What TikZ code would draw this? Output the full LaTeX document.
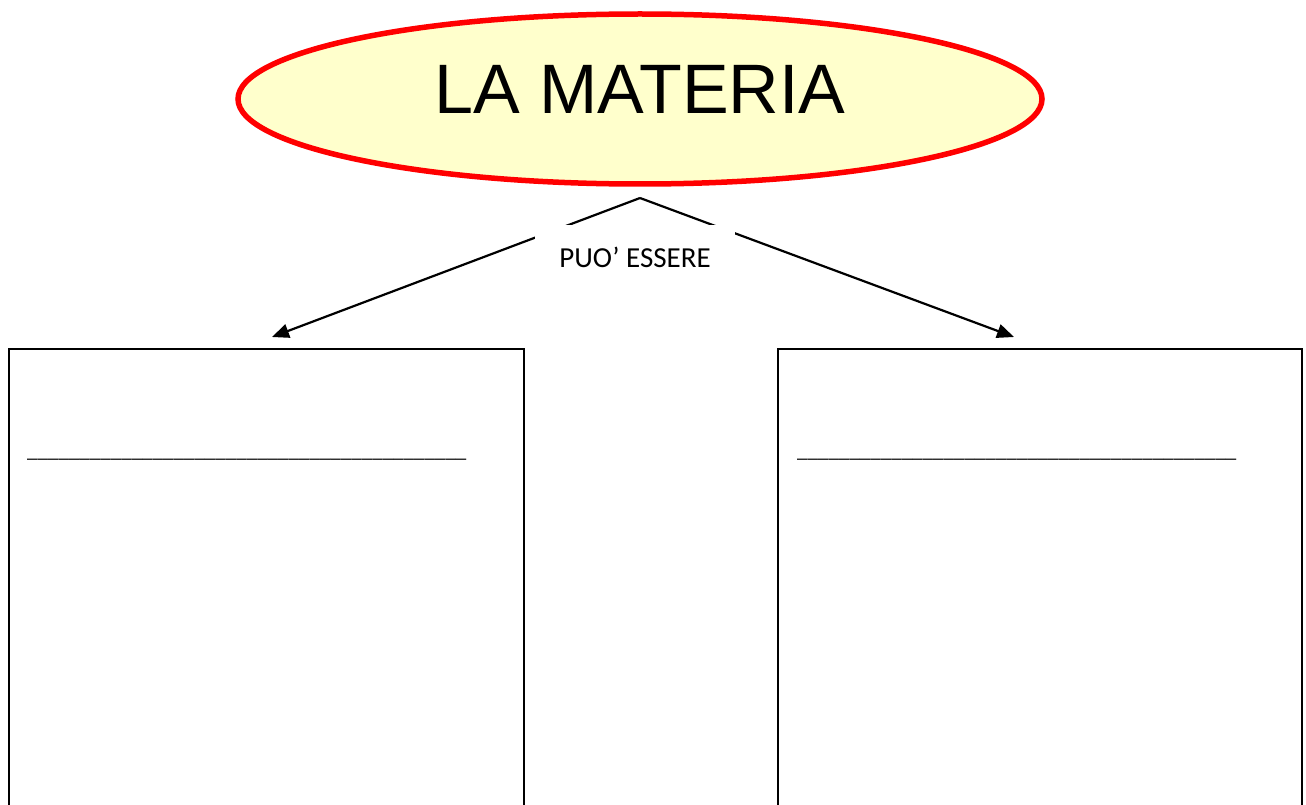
\documentclass[tikz,border=0pt]{standalone}
\usepackage{fontspec}
\setmainfont{Carlito}
\newfontfamily\arialfont{Liberation Sans}
\usetikzlibrary{shapes.geometric,arrows.meta}
\definecolor{ellfill}{HTML}{FFFFCC}
\definecolor{ellline}{HTML}{FF0000}
\tikzset{
  titleell/.style={ellipse, draw=ellline, line width=5.5pt, fill=ellfill, minimum width=804pt, minimum height=170pt, inner sep=0pt},
  titletext/.style={inner sep=0pt, font=\arialfont\fontsize{70}{70}\selectfont},
  linklabel/.style={fill=white, minimum width=200pt, minimum height=64pt, inner sep=0pt, font=\fontsize{29}{29}\selectfont},
  answerbox/.style={draw, line width=2pt, anchor=north west, minimum height=600pt, inner sep=0pt},
  blank/.style={anchor=west, inner sep=0pt, font=\fontsize{21}{21}\selectfont},
  conn/.style={line width=2.2pt, -{Triangle[length=17pt,width=14pt]}}
}
\begin{document}
\begin{tikzpicture}[x=1pt,y=-1pt]
\useasboundingbox[fill=white] (0,0) rectangle (1306,805);
\begin{scope}
\clip (0,0) rectangle (1306,805);
\node[titleell] (title) at (640,99) {};
\node[titletext] (titlelbl) at (640,89) {LA MATERIA};
\node[answerbox, minimum width=515pt] (leftbox) at (8,348) {};
\node[answerbox, minimum width=524pt] (rightbox) at (777,348) {};
\coordinate (apex) at (640,198);
\coordinate (lefttip) at (272,337);
\coordinate (righttip) at (1014,337);
\draw[conn] (apex) -- (lefttip);
\draw[conn] (apex) -- (righttip);
\node[linklabel] (lbl) at (635,257) {PUO’ ESSERE};
\node[blank] (leftblank) at (27,459) {\_\_\_\_\_\_\_\_\_\_\_\_\_\_\_\_\_\_\_\_\_\_\_\_\_\_\_\_\_\_\_\_\_\_\_\_\_\_\_\_\_\_};
\node[blank] (rightblank) at (797,459) {\_\_\_\_\_\_\_\_\_\_\_\_\_\_\_\_\_\_\_\_\_\_\_\_\_\_\_\_\_\_\_\_\_\_\_\_\_\_\_\_\_\_};
\end{scope}
\end{tikzpicture}
\end{document}
